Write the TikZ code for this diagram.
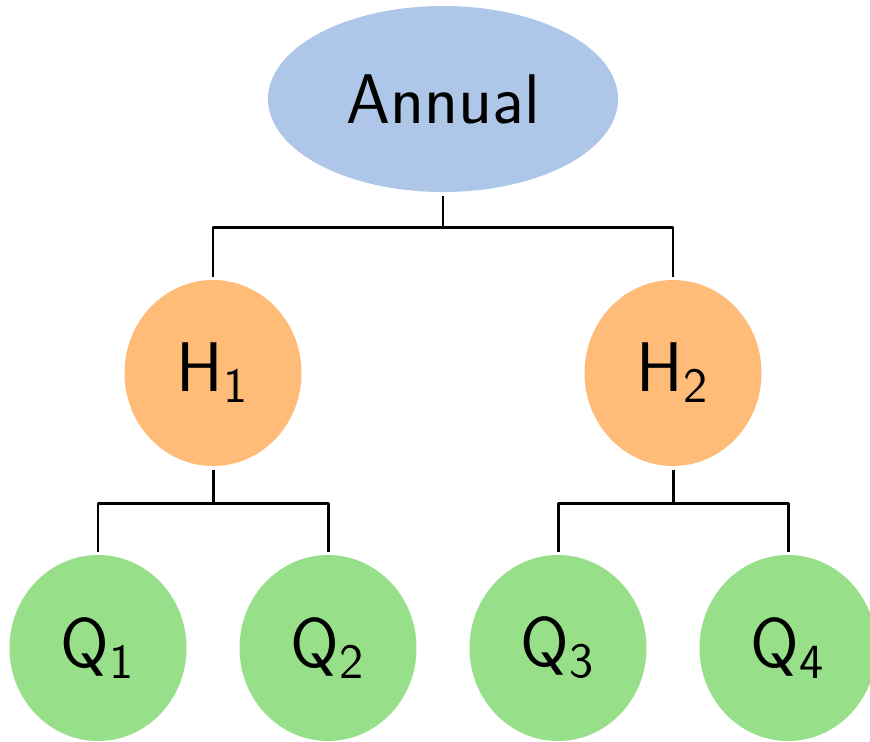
\documentclass[tikz,border=0pt]{standalone}
\usetikzlibrary{shapes.geometric}
\definecolor{annualblue}{RGB}{174,199,232}
\definecolor{halforange}{RGB}{255,187,120}
\definecolor{quartergreen}{RGB}{152,223,138}
\begin{document}
\begin{tikzpicture}[font=\sffamily\fontsize{20}{24}\selectfont, line join=round, line cap=butt,
	period/.style={ellipse, inner sep=0pt, outer sep=0.035cm, minimum width=1.77cm, minimum height=1.86cm},
	year/.style={period, fill=annualblue, minimum width=3.50cm},
	half/.style={period, fill=halforange},
	quarter/.style={period, fill=quartergreen},
	link/.style={draw=black, line width=0.6pt}]
	\useasboundingbox (0,0) rectangle (8.70,7.41);
	\path
	(4.43,6.42)node[year] (A) {Annual}
	(2.13,3.68)node[half] (H1) {H\textsubscript{1}}
	(6.73,3.68)node[half] (H2) {H\textsubscript{2}}
	;
	\foreach \i in {1,...,4}\path (0.98+2.30*\i-2.30,0.93) node[quarter] (Q\i) {Q\textsubscript{\i}};
	
	\draw[link]
	(A.south)--++(0,-0.32)coordinate (AB) -| (H1.north)
	(AB) -| (H2.north)
	;
	\draw[link, line width=0.85pt]
	(H1.south)--++(0,-0.34)coordinate (HB1) -| (Q1.north)
	(HB1) -| (Q2.north)
	(H2.south)--++(0,-0.34)coordinate (HB2) -| (Q3.north)
	(HB2) -| (Q4.north)
	;
\end{tikzpicture}
\end{document}
